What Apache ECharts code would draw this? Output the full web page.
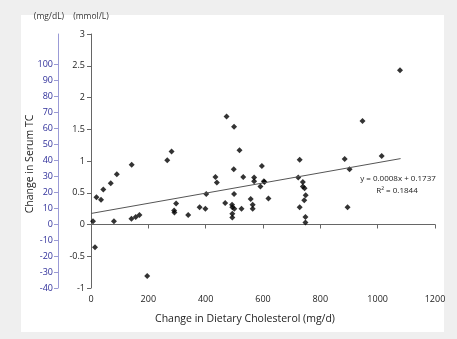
<!DOCTYPE html>
<html><head><meta charset="utf-8">
<script src="https://cdn.jsdelivr.net/npm/echarts@6/dist/echarts.min.js"></script>
<style>
html,body{margin:0;padding:0;background:#efefef;}
#panel{position:absolute;left:21px;top:15px;width:423px;height:317px;background:#fff;}
#chart{position:absolute;left:0;top:0;width:457px;height:339px;}
</style></head><body>
<div id="panel"></div><div id="chart"></div>
<script>
// Change in dietary cholesterol (mg/d)
const dietaryChange = [7,14,19,35,43,69,80,90,141,142,156,169,196,266,281,290,291,297,339,379,399,402,434,439,468,473,492,493,493,493,498,499,499,500,518,525,531,557,564,564,569,569,591,596,603,605,619,728,723,739,739,745,749,744,728,748,748,885,902,895,947,1014,1078];
// Change in serum TC (mmol/L)
const serumChange = [0.05,-0.36,0.43,0.39,0.55,0.65,0.05,0.79,0.09,0.94,0.12,0.15,-0.81,1.01,1.15,0.22,0.19,0.33,0.15,0.27,0.25,0.48,0.75,0.66,0.34,1.70,0.31,0.27,0.17,0.11,0.87,0.48,1.54,0.25,1.17,0.25,0.75,0.40,0.31,0.25,0.74,0.68,0.60,0.92,0.68,0.67,0.41,1.02,0.74,0.67,0.60,0.57,0.46,0.38,0.27,0.12,0.03,1.03,0.87,0.27,1.63,1.08,2.43];
// Trend line end points (y = 0.0008x + 0.1737)
const trendX = [0, 1080];
const trendY = [0.1737, 1.0377];
// mg/dL tick values
const mgTicks = [-40,-30,-20,-10,0,10,20,30,40,50,60,70,80,90,100];
const trendLabel = ['y = 0.0008x + 0.1737', 'R\u00B2 = 0.1844'];

const FONT = 'Open Sans';
const chart = echarts.init(document.getElementById('chart'), null, {renderer:'canvas'});
chart.setOption({
  animation:false,
  backgroundColor:'transparent',
  textStyle:{fontFamily:FONT},
  grid:{left:91,right:22,top:34,bottom:51,containLabel:false},
  xAxis:{
    type:'value',min:0,max:1200,interval:200,
    axisLine:{lineStyle:{color:'#666',width:1}},
    axisTick:{show:true,length:4,lineStyle:{color:'#666'}},
    axisLabel:{color:'#222',fontSize:9,margin:7,fontFamily:FONT,formatter:v=>String(v)},
    splitLine:{show:false},
    name:'Change in Dietary Cholesterol (mg/d)',
    nameLocation:'middle',nameGap:26,
    nameTextStyle:{color:'#222',fontSize:10.5,fontFamily:FONT,padding:[0,36,0,0]}
  },
  yAxis:[{
    type:'value',min:-1,max:3,interval:0.5,position:'left',
    axisLine:{show:true,lineStyle:{color:'#666',width:1}},
    axisTick:{show:true,length:4,lineStyle:{color:'#666'}},
    axisLabel:{color:'#222',fontSize:9,margin:6,fontFamily:FONT},
    splitLine:{show:false},
    name:'(mmol/L)',nameLocation:'end',nameGap:13,
    nameTextStyle:{color:'#333',fontSize:8.5,align:'center',fontFamily:FONT}
  },{
    type:'value',min:-40,max:118.75,position:'left',offset:33,
    axisLine:{show:true,lineStyle:{color:'#9b9bd6',width:1}},
    axisTick:{show:true,length:4,customValues:mgTicks,lineStyle:{color:'#9b9bd6'}},
    axisLabel:{color:'#2e2e9a',fontSize:9,margin:5,customValues:mgTicks,fontFamily:FONT},
    splitLine:{show:false},
    name:'(mg/dL)',nameLocation:'end',nameGap:13,
    nameTextStyle:{color:'#333',fontSize:8.5,align:'center',padding:[0,18,0,0],fontFamily:FONT}
  }],
  series:[{
    type:'scatter',
    yAxisIndex:0,
    symbol:'diamond',symbolSize:6,
    itemStyle:{color:'#000'},
    data:dietaryChange.map((x,i)=>[x,serumChange[i]])
  },{
    type:'line',
    yAxisIndex:0,
    symbol:'none',
    lineStyle:{color:'#555',width:1},
    data:trendX.map((x,i)=>[x,trendY[i]])
  }],
  graphic:[
    {type:'text',x:30,y:164,rotation:Math.PI/2,
     style:{text:'Change in Serum TC',fill:'#222',font:'10.5px "Open Sans"',textAlign:'center',textVerticalAlign:'middle'}},
    {type:'text',x:398,y:179,
     style:{text:trendLabel[0],fill:'#222',font:'8px "Open Sans"',textAlign:'center',textVerticalAlign:'middle'}},
    {type:'text',x:397,y:191,
     style:{text:trendLabel[1],fill:'#222',font:'8px "Open Sans"',textAlign:'center',textVerticalAlign:'middle'}}
  ]
});
</script>
</body></html>
